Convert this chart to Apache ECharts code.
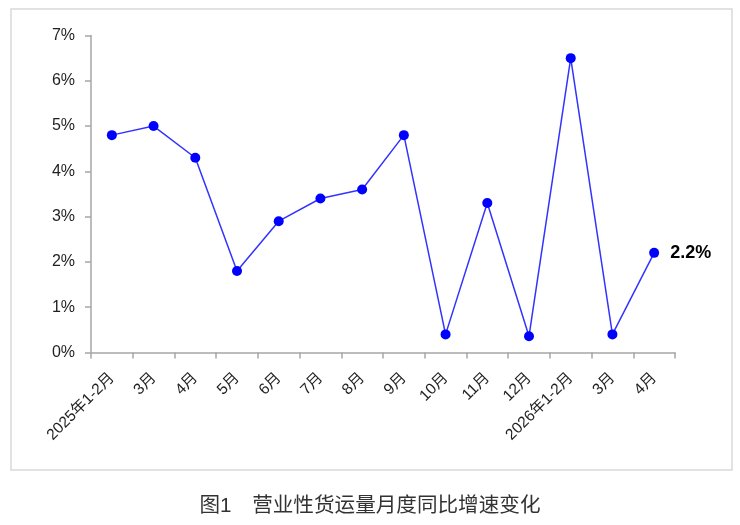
<!DOCTYPE html>
<html>
<head>
<meta charset="utf-8">
<script src="https://cdn.jsdelivr.net/npm/echarts@6/dist/echarts.min.js"></script>
<style>
html,body{margin:0;padding:0;background:#fff;}
#c{width:740px;height:525px;}
</style>
</head>
<body>
<div id="c"></div>
<script>
var categories = ['2025年1-2月','3月','4月','5月','6月','7月','8月','9月','10月','11月','12月','2026年1-2月','3月','4月'];
var growth = [4.8, 5.0, 4.3, 1.8, 2.9, 3.4, 3.6, 4.8, 0.4, 3.3, 0.36, 6.5, 0.4, 2.2];
var yTicks = [0, 1, 7, 1]; // min, interval, max (reference only)
var caption = '图1\u3000营业性货运量月度同比增速变化';

var chart = echarts.init(document.getElementById('c'), null, {renderer:'canvas'});
var font = 'Liberation Sans, Arial, "Noto Sans CJK SC", sans-serif';
chart.setOption({
  animation: false,
  backgroundColor: '#fff',
  grid: {left: 91, right: 65, top: 35.5, bottom: 172.5, containLabel: false},
  title: {
    text: caption, left: 'center', top: 491,
    textStyle: {fontSize: 20.6, fontWeight: 'normal', color: '#333', fontFamily: font}
  },
  graphic: [{
    type: 'rect', shape: {x: 11, y: 9, width: 721, height: 461},
    style: {fill: 'none', stroke: '#d9d9d9', lineWidth: 1.5}, z: -1
  }],
  xAxis: {
    type: 'category', data: categories, boundaryGap: true,
    axisLine: {lineStyle: {color: '#a6a6a6', width: 1.5}},
    axisTick: {show: true, inside: false, length: 6, alignWithLabel: false, lineStyle: {color: '#a6a6a6', width: 1.5}},
    axisLabel: {rotate: 45, interval: 0, margin: 23, fontSize: 15.5, color: '#1f1f1f', fontFamily: font}
  },
  yAxis: {
    type: 'value', min: yTicks[0], max: yTicks[2], interval: yTicks[1],
    splitLine: {show: false},
    axisLine: {show: true, lineStyle: {color: '#a6a6a6', width: 1.5}},
    axisTick: {show: true, length: 6, lineStyle: {color: '#a6a6a6', width: 1.5}},
    axisLabel: {formatter: '{value}%', fontSize: 16, color: '#1f1f1f', margin: 16, fontFamily: font}
  },
  series: [{
    type: 'line', data: growth,
    symbol: 'circle', symbolSize: 10,
    lineStyle: {color: '#3333ff', width: 1.5},
    itemStyle: {color: '#0000ff'},
    label: {
      show: true, position: 'right', distance: 11,
      formatter: function(p){ return p.dataIndex === growth.length - 1 ? p.value.toFixed(1) + '%' : ''; },
      fontSize: 18, fontWeight: 'bold', color: '#000', fontFamily: font
    }
  }]
});
</script>
</body>
</html>
